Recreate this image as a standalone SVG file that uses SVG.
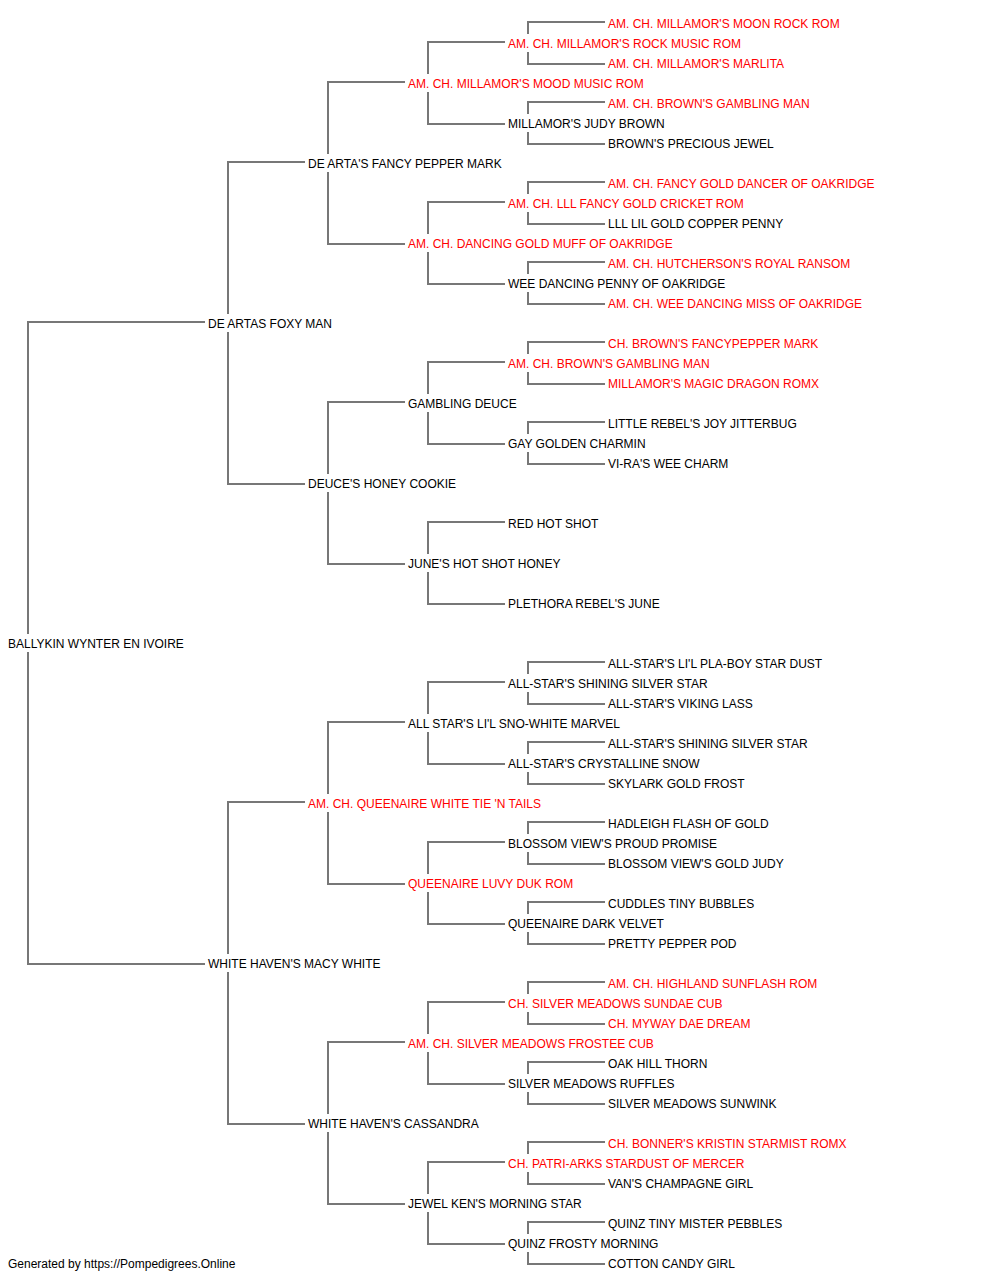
<svg xmlns="http://www.w3.org/2000/svg" width="1000" height="1280" viewBox="0 0 1000 1280">
<style>
text{font-family:"Liberation Sans",Arial,sans-serif;font-size:12px;fill:#000}
.r{fill:#ff0000}
.c{fill:none;stroke:#777;stroke-width:2}
</style>
<rect width="1000" height="1280" fill="#fff"/>
<g id="connectors" class="c">
<path d="M205 322H28V634M28 652V964H205"/>
<path d="M305 162H228V314M228 332V484H305"/>
<path d="M305 802H228V954M228 972V1124H305"/>
<path d="M405 82H328V154M328 172V244H405"/>
<path d="M405 402H328V474M328 492V564H405"/>
<path d="M405 722H328V794M328 812V884H405"/>
<path d="M405 1042H328V1114M328 1132V1204H405"/>
<path d="M505 42H428V74M428 92V124H505"/>
<path d="M505 202H428V234M428 252V284H505"/>
<path d="M505 362H428V394M428 412V444H505"/>
<path d="M505 522H428V554M428 572V604H505"/>
<path d="M505 682H428V714M428 732V764H505"/>
<path d="M505 842H428V874M428 892V924H505"/>
<path d="M505 1002H428V1034M428 1052V1084H505"/>
<path d="M505 1162H428V1194M428 1212V1244H505"/>
<path d="M605 22H528V34M528 52V64H605"/>
<path d="M605 102H528V114M528 132V144H605"/>
<path d="M605 182H528V194M528 212V224H605"/>
<path d="M605 262H528V274M528 292V304H605"/>
<path d="M605 342H528V354M528 372V384H605"/>
<path d="M605 422H528V434M528 452V464H605"/>
<path d="M605 662H528V674M528 692V704H605"/>
<path d="M605 742H528V754M528 772V784H605"/>
<path d="M605 822H528V834M528 852V864H605"/>
<path d="M605 902H528V914M528 932V944H605"/>
<path d="M605 982H528V994M528 1012V1024H605"/>
<path d="M605 1062H528V1074M528 1092V1104H605"/>
<path d="M605 1142H528V1154M528 1172V1184H605"/>
<path d="M605 1222H528V1234M528 1252V1264H605"/>
</g>
<g id="n0"><text x="8" y="648">BALLYKIN WYNTER EN IVOIRE</text></g>
<g id="n1a"><text x="208" y="328">DE ARTAS FOXY MAN</text></g>
<g id="n1b"><text x="208" y="968">WHITE HAVEN'S MACY WHITE</text></g>
<g id="n2a"><text x="308" y="168">DE ARTA'S FANCY PEPPER MARK</text></g>
<g id="n2b"><text x="308" y="488">DEUCE'S HONEY COOKIE</text></g>
<g id="n2c"><text x="308" y="808" class="r">AM. CH. QUEENAIRE WHITE TIE 'N TAILS</text></g>
<g id="n2d"><text x="308" y="1128">WHITE HAVEN'S CASSANDRA</text></g>
<g id="n3a"><text x="408" y="88" class="r">AM. CH. MILLAMOR'S MOOD MUSIC ROM</text></g>
<g id="n3b"><text x="408" y="248" class="r">AM. CH. DANCING GOLD MUFF OF OAKRIDGE</text></g>
<g id="n3c"><text x="408" y="408">GAMBLING DEUCE</text></g>
<g id="n3d"><text x="408" y="568">JUNE'S HOT SHOT HONEY</text></g>
<g id="n3e"><text x="408" y="728">ALL STAR'S LI'L SNO-WHITE MARVEL</text></g>
<g id="n3f"><text x="408" y="888" class="r">QUEENAIRE LUVY DUK ROM</text></g>
<g id="n3g"><text x="408" y="1048" class="r">AM. CH. SILVER MEADOWS FROSTEE CUB</text></g>
<g id="n3h"><text x="408" y="1208">JEWEL KEN'S MORNING STAR</text></g>
<g id="n4a"><text x="508" y="48" class="r">AM. CH. MILLAMOR'S ROCK MUSIC ROM</text></g>
<g id="n4b"><text x="508" y="128">MILLAMOR'S JUDY BROWN</text></g>
<g id="n4c"><text x="508" y="208" class="r">AM. CH. LLL FANCY GOLD CRICKET ROM</text></g>
<g id="n4d"><text x="508" y="288">WEE DANCING PENNY OF OAKRIDGE</text></g>
<g id="n4e"><text x="508" y="368" class="r">AM. CH. BROWN'S GAMBLING MAN</text></g>
<g id="n4f"><text x="508" y="448">GAY GOLDEN CHARMIN</text></g>
<g id="n4g"><text x="508" y="528">RED HOT SHOT</text></g>
<g id="n4h"><text x="508" y="608">PLETHORA REBEL'S JUNE</text></g>
<g id="n4i"><text x="508" y="688">ALL-STAR'S SHINING SILVER STAR</text></g>
<g id="n4j"><text x="508" y="768">ALL-STAR'S CRYSTALLINE SNOW</text></g>
<g id="n4k"><text x="508" y="848">BLOSSOM VIEW'S PROUD PROMISE</text></g>
<g id="n4l"><text x="508" y="928">QUEENAIRE DARK VELVET</text></g>
<g id="n4m"><text x="508" y="1008" class="r">CH. SILVER MEADOWS SUNDAE CUB</text></g>
<g id="n4n"><text x="508" y="1088">SILVER MEADOWS RUFFLES</text></g>
<g id="n4o"><text x="508" y="1168" class="r">CH. PATRI-ARKS STARDUST OF MERCER</text></g>
<g id="n4p"><text x="508" y="1248">QUINZ FROSTY MORNING</text></g>
<g id="n5a"><text x="608" y="28" class="r">AM. CH. MILLAMOR'S MOON ROCK ROM</text></g>
<g id="n5b"><text x="608" y="68" class="r">AM. CH. MILLAMOR'S MARLITA</text></g>
<g id="n5c"><text x="608" y="108" class="r">AM. CH. BROWN'S GAMBLING MAN</text></g>
<g id="n5d"><text x="608" y="148">BROWN'S PRECIOUS JEWEL</text></g>
<g id="n5e"><text x="608" y="188" class="r">AM. CH. FANCY GOLD DANCER OF OAKRIDGE</text></g>
<g id="n5f"><text x="608" y="228">LLL LIL GOLD COPPER PENNY</text></g>
<g id="n5g"><text x="608" y="268" class="r">AM. CH. HUTCHERSON'S ROYAL RANSOM</text></g>
<g id="n5h"><text x="608" y="308" class="r">AM. CH. WEE DANCING MISS OF OAKRIDGE</text></g>
<g id="n5i"><text x="608" y="348" class="r">CH. BROWN'S FANCYPEPPER MARK</text></g>
<g id="n5j"><text x="608" y="388" class="r">MILLAMOR'S MAGIC DRAGON ROMX</text></g>
<g id="n5k"><text x="608" y="428">LITTLE REBEL'S JOY JITTERBUG</text></g>
<g id="n5l"><text x="608" y="468">VI-RA'S WEE CHARM</text></g>
<g id="n5m"><text x="608" y="668">ALL-STAR'S LI'L PLA-BOY STAR DUST</text></g>
<g id="n5n"><text x="608" y="708">ALL-STAR'S VIKING LASS</text></g>
<g id="n5o"><text x="608" y="748">ALL-STAR'S SHINING SILVER STAR</text></g>
<g id="n5p"><text x="608" y="788">SKYLARK GOLD FROST</text></g>
<g id="n5q"><text x="608" y="828">HADLEIGH FLASH OF GOLD</text></g>
<g id="n5r"><text x="608" y="868">BLOSSOM VIEW'S GOLD JUDY</text></g>
<g id="n5s"><text x="608" y="908">CUDDLES TINY BUBBLES</text></g>
<g id="n5t"><text x="608" y="948">PRETTY PEPPER POD</text></g>
<g id="n5u"><text x="608" y="988" class="r">AM. CH. HIGHLAND SUNFLASH ROM</text></g>
<g id="n5v"><text x="608" y="1028" class="r">CH. MYWAY DAE DREAM</text></g>
<g id="n5w"><text x="608" y="1068">OAK HILL THORN</text></g>
<g id="n5x"><text x="608" y="1108">SILVER MEADOWS SUNWINK</text></g>
<g id="n5y"><text x="608" y="1148" class="r">CH. BONNER'S KRISTIN STARMIST ROMX</text></g>
<g id="n5z"><text x="608" y="1188">VAN'S CHAMPAGNE GIRL</text></g>
<g id="n5aa"><text x="608" y="1228">QUINZ TINY MISTER PEBBLES</text></g>
<g id="n5ab"><text x="608" y="1268">COTTON CANDY GIRL</text></g>
<g id="footer"><text x="8" y="1268">Generated by https://Pompedigrees.Online</text></g>
</svg>
